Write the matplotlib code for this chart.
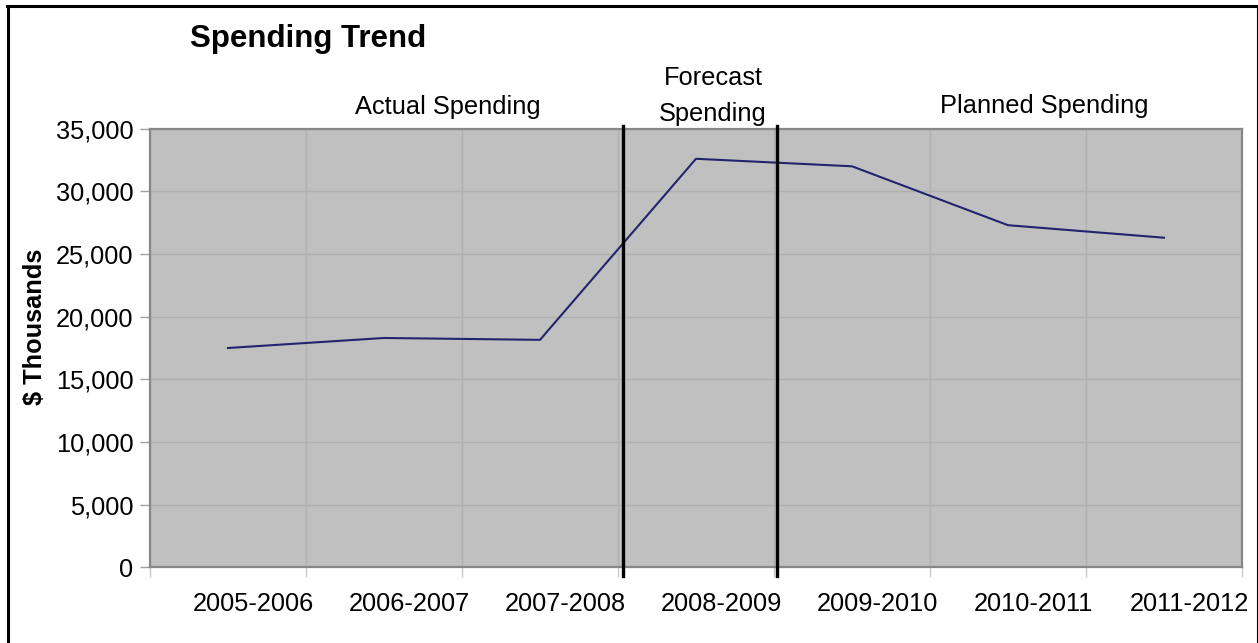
import matplotlib
matplotlib.use("Agg")
import matplotlib.pyplot as plt
from matplotlib.lines import Line2D
from matplotlib.ticker import FuncFormatter
from matplotlib.transforms import ScaledTranslation

plt.rcParams['font.family'] = ['Liberation Sans', 'DejaVu Sans']

categories = ["2005-2006", "2006-2007", "2007-2008", "2008-2009",
              "2009-2010", "2010-2011", "2011-2012"]
spending = [17500, 18300, 18150, 32600, 32000, 27300, 26300]
yticks = [0, 5000, 10000, 15000, 20000, 25000, 30000, 35000]
dividers = [2.53, 3.52]

W, H = 1258, 643
fig = plt.figure(figsize=(W / 100, H / 100), dpi=100)
ax = fig.add_axes([150 / W, 1 - 567.3 / H, (1242 - 150) / W, (567.3 - 128.7) / H])

ax.set_facecolor('#C0C0C0')
x = list(range(len(categories)))
ax.plot(x, spending, color='#24246E', lw=1.5, zorder=3)

ax.set_xlim(-0.5, len(categories) - 0.5)
ax.set_ylim(0, 35000)
ax.set_yticks(yticks)
ax.yaxis.set_major_formatter(FuncFormatter(lambda v, p: f"{int(v):,}"))
ax.set_xticks(x)
ax.set_xticklabels(categories)
ax.set_xticks([i - 0.5 for i in range(len(categories) + 1)], minor=True)

ax.grid(True, which='major', axis='y', color='#B0B0B0', lw=1)
ax.grid(True, which='minor', axis='x', color='#B0B0B0', lw=1)
ax.set_axisbelow(True)

ax.tick_params(axis='y', which='major', length=7, width=1, color='#A0A0A0',
               labelsize=18.3, pad=5, labelcolor='black')
ax.tick_params(axis='x', which='major', length=0, labelsize=18.3, pad=18,
               labelcolor='black')
ax.tick_params(axis='x', which='minor', length=7, width=1, color='#C8C8C8')

shift = ScaledTranslation(25 / 100, 0, fig.dpi_scale_trans)
for lbl in ax.get_xticklabels():
    lbl.set_transform(lbl.get_transform() + shift)

for s in ax.spines.values():
    s.set_color('#888888')
    s.set_linewidth(1.6)

for d in dividers:
    ax.axvline(d, ymin=-0.02, ymax=1.006, color='black', lw=2.4,
               clip_on=False, zorder=4)

ax.set_ylabel("$ Thousands", fontsize=18.3, fontweight='bold')
ax.yaxis.set_label_coords(-(150 - 47) / (1242 - 150), (567.3 - 327) / 438.6)

fig.text(190 / W, 1 - 39 / H, "Spending Trend", fontsize=22.5,
         fontweight='bold', ha='left', va='center')
fig.text(448 / W, 1 - 107 / H, "Actual Spending", fontsize=18.3,
         ha='center', va='center')
fig.text(713 / W, 1 - 96 / H, "Forecast\nSpending", fontsize=18.3,
         ha='center', va='center', linespacing=1.6)
fig.text(1044 / W, 1 - 106 / H, "Planned Spending", fontsize=18.3,
         ha='center', va='center')

# outer frame: thick left/top, thin right, bottom cut off
fig.add_artist(Line2D([8 / W, 8 / W], [0, 1 - 6 / H], transform=fig.transFigure,
                      color='black', lw=2.2))
fig.add_artist(Line2D([7 / W, 1256.5 / W], [1 - 6 / H, 1 - 6 / H],
                      transform=fig.transFigure, color='black', lw=2.2))
fig.add_artist(Line2D([1256.5 / W, 1256.5 / W], [0, 1 - 6 / H],
                      transform=fig.transFigure, color='black', lw=0.8))

fig.savefig("out.png", dpi=100)
